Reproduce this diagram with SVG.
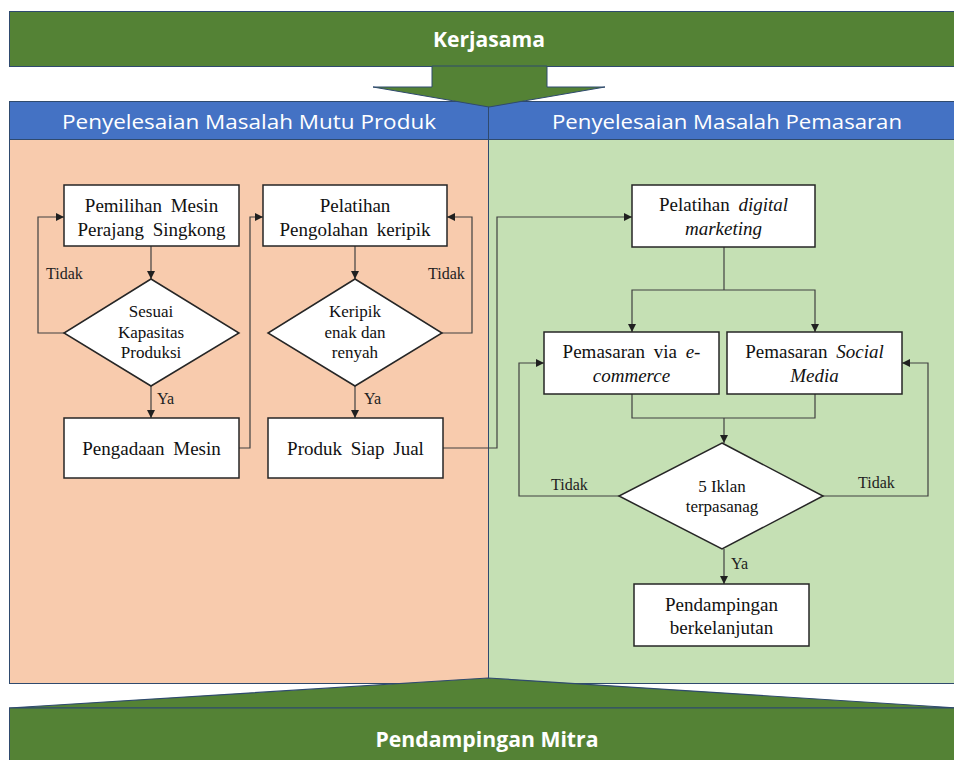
<svg xmlns="http://www.w3.org/2000/svg" width="954" height="760" viewBox="0 0 954 760">
<style>
.box{fill:#fff;stroke:#262626;stroke-width:1.5}
.t{font-family:"Liberation Serif","Times New Roman",serif;font-size:19px;fill:#111;text-anchor:middle;word-spacing:4px}
.d{font-family:"Liberation Serif","Times New Roman",serif;font-size:17px;fill:#111;text-anchor:middle}
.lbl{font-family:"Liberation Serif","Times New Roman",serif;font-size:16px;fill:#222}
.i{font-style:italic}
.con{fill:none;stroke:#404040;stroke-width:1.2}
.hdr{font-family:"Open Sans","Noto Sans",sans-serif;font-size:20px;fill:#fff;text-anchor:middle}
.big{font-family:"Open Sans","Noto Sans",sans-serif;font-size:21px;font-weight:bold;fill:#fff;text-anchor:middle}
</style>
<defs>
<marker id="ah" viewBox="0 0 10 10" refX="10" refY="5" markerWidth="8" markerHeight="8" markerUnits="userSpaceOnUse" orient="auto">
<path d="M0,0 L10,5 L0,10 z" fill="#202020"/>
</marker>
</defs>
<rect width="954" height="760" fill="#fff"/>

<!-- panels -->
<g id="panel-left">
<rect x="9.5" y="139.5" width="479" height="544" fill="#F8CBAD" stroke="#2F4A6E" stroke-width="1"/>
</g>
<g id="panel-right">
<rect x="488.5" y="139.5" width="470" height="544" fill="#C5E0B4" stroke="#2F4A6E" stroke-width="1"/>
</g>
<g id="header">
<rect x="9.5" y="101.5" width="950" height="38" fill="#4472C4" stroke="#2F4A6E" stroke-width="1"/>
<line x1="488.5" y1="101" x2="488.5" y2="139" stroke="#2F4A6E" stroke-width="1"/>
<text class="hdr" x="249" y="129" textLength="374" lengthAdjust="spacingAndGlyphs">Penyelesaian Masalah Mutu Produk</text>
<text class="hdr" x="727" y="129" textLength="350" lengthAdjust="spacingAndGlyphs">Penyelesaian Masalah Pemasaran</text>
</g>

<g id="kerjasama">
<rect x="9.5" y="11.5" width="950" height="55" fill="#548235" stroke="#2F4A6E" stroke-width="1"/>
<text class="big" x="489" y="47" textLength="112" lengthAdjust="spacingAndGlyphs">Kerjasama</text>
</g>
<g id="arrow-down">
<path d="M432,66 L547,66 L547,87 L605,87 L489,107 L373,87 L432,87 Z" fill="#548235" stroke="#2F4A6E" stroke-width="1"/>
</g>

<g id="pendampingan-mitra">
<path d="M9,708 L488,678 L958,708 Z" fill="#548235" stroke="#2F4A6E" stroke-width="1.2"/>
<rect x="9.5" y="708" width="950" height="60" fill="#548235" stroke="#2F4A6E" stroke-width="1"/>
<text class="big" x="487" y="747" textLength="223" lengthAdjust="spacingAndGlyphs">Pendampingan Mitra</text>
</g>

<!-- connectors -->
<g id="connectors">
<line class="con" x1="151" y1="246" x2="151" y2="279" marker-end="url(#ah)"/>
<polyline class="con" points="64,333 38,333 38,217 64,217" marker-end="url(#ah)"/>
<line class="con" x1="151" y1="386" x2="151" y2="418" marker-end="url(#ah)"/>
<polyline class="con" points="239,448 250,448 250,217 263,217" marker-end="url(#ah)"/>
<line class="con" x1="355" y1="246" x2="355" y2="279" marker-end="url(#ah)"/>
<polyline class="con" points="442,333 472,333 472,217 447,217" marker-end="url(#ah)"/>
<line class="con" x1="355" y1="386" x2="355" y2="418" marker-end="url(#ah)"/>
<polyline class="con" points="443,448 497,448 497,217 632,217" marker-end="url(#ah)"/>
<polyline class="con" points="724,247 724,290"/>
<polyline class="con" points="724,290 632,290 632,332" marker-end="url(#ah)"/>
<polyline class="con" points="724,290 815,290 815,332" marker-end="url(#ah)"/>
<polyline class="con" points="632,394 632,418 815,418 815,394"/>
<line class="con" x1="724" y1="418" x2="724" y2="443" marker-end="url(#ah)"/>
<polyline class="con" points="619,496 519,496 519,363 544,363" marker-end="url(#ah)"/>
<polyline class="con" points="823,496 928,496 928,363 902,363" marker-end="url(#ah)"/>
<line class="con" x1="724" y1="549" x2="724" y2="584" marker-end="url(#ah)"/>
<text class="lbl" x="46" y="279">Tidak</text>
<text class="lbl" x="157" y="404">Ya</text>
<text class="lbl" x="428" y="279">Tidak</text>
<text class="lbl" x="364" y="404">Ya</text>
<text class="lbl" x="551" y="490">Tidak</text>
<text class="lbl" x="858" y="488">Tidak</text>
<text class="lbl" x="731" y="569">Ya</text>
</g>

<!-- nodes -->
<g id="pemilihan-mesin">
<rect class="box" x="64" y="185" width="175" height="61"/>
<text class="t" x="151.5" y="212">Pemilihan Mesin</text>
<text class="t" x="151.5" y="236">Perajang Singkong</text>
</g>
<g id="sesuai-kapasitas">
<polygon class="box" points="151,279 239,333 151,386 64,333"/>
<text class="d" x="151" y="317">Sesuai</text>
<text class="d" x="151" y="338">Kapasitas</text>
<text class="d" x="151" y="358">Produksi</text>
</g>
<g id="pengadaan-mesin">
<rect class="box" x="64" y="418" width="175" height="60"/>
<text class="t" x="151.5" y="455">Pengadaan Mesin</text>
</g>
<g id="pelatihan-pengolahan">
<rect class="box" x="263" y="185" width="184" height="61"/>
<text class="t" x="355" y="212">Pelatihan</text>
<text class="t" x="355" y="236">Pengolahan keripik</text>
</g>
<g id="keripik-enak">
<polygon class="box" points="355,279 442,333 355,386 268,333"/>
<text class="d" x="355" y="317">Keripik</text>
<text class="d" x="355" y="338">enak dan</text>
<text class="d" x="355" y="358">renyah</text>
</g>
<g id="produk-siap-jual">
<rect class="box" x="268" y="418" width="175" height="60"/>
<text class="t" x="355.5" y="455">Produk Siap Jual</text>
</g>
<g id="pelatihan-digital">
<rect class="box" x="632" y="185" width="183" height="62"/>
<text class="t" x="723.5" y="211">Pelatihan <tspan class="i">digital</tspan></text>
<text class="t i" x="723.5" y="235">marketing</text>
</g>
<g id="pemasaran-ecommerce">
<rect class="box" x="544" y="332" width="175" height="62"/>
<text class="t" x="631.5" y="358">Pemasaran via <tspan class="i">e-</tspan></text>
<text class="t i" x="631.5" y="382">commerce</text>
</g>
<g id="pemasaran-social">
<rect class="box" x="727" y="332" width="175" height="62"/>
<text class="t" x="814.5" y="358">Pemasaran <tspan class="i">Social</tspan></text>
<text class="t i" x="814.5" y="382">Media</text>
</g>
<g id="iklan-terpasang">
<polygon class="box" points="722,443 823,496 722,549 619,496"/>
<text class="d" x="722" y="492">5 Iklan</text>
<text class="d" x="722" y="512">terpasanag</text>
</g>
<g id="pendampingan-berkelanjutan">
<rect class="box" x="634" y="584" width="175" height="62"/>
<text class="t" x="721.5" y="611">Pendampingan</text>
<text class="t" x="721.5" y="634">berkelanjutan</text>
</g>
</svg>
